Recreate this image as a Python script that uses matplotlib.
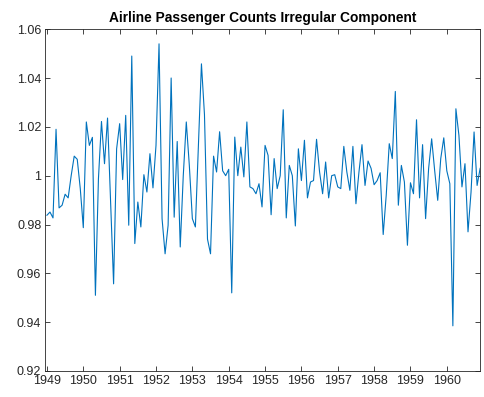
import matplotlib
matplotlib.use("Agg")
import matplotlib.pyplot as plt
import numpy as np
from matplotlib.ticker import FuncFormatter

start_year = 1949
years = list(range(1949, 1961))
irregular = [
    0.9838, 0.9851, 0.9827, 1.0190, 0.9868, 0.9879, 0.9924, 0.9909, 1.0000, 1.0080, 1.0067, 0.9947,
    0.9787, 1.0220, 1.0124, 1.0157, 0.9510, 0.9988, 1.0222, 1.0049, 1.0236, 0.9900, 0.9557, 1.0110,
    1.0213, 0.9984, 1.0247, 0.9797, 1.0490, 0.9722, 0.9892, 0.9790, 1.0004, 0.9933, 1.0090, 0.9950,
    1.0124, 1.0540, 0.9824, 0.9680, 0.9797, 1.0400, 0.9830, 1.0140, 0.9708, 1.0000, 1.0220, 1.0042,
    0.9824, 0.9790, 1.0120, 1.0458, 1.0250, 0.9740, 0.9680, 1.0080, 1.0015, 1.0180, 1.0020, 1.0000,
    1.0026, 0.9520, 1.0158, 1.0000, 1.0117, 0.9995, 1.0220, 0.9954, 0.9947, 0.9926, 0.9967, 0.9872,
    1.0124, 1.0083, 0.9840, 1.0070, 0.9947, 1.0000, 1.0270, 0.9827, 1.0042, 1.0000, 0.9794, 1.0110,
    0.9980, 1.0145, 0.9909, 0.9974, 0.9980, 1.0149, 1.0015, 0.9926, 1.0056, 0.9909, 1.0000, 1.0004,
    0.9954, 0.9947, 1.0120, 1.0015, 0.9940, 1.0120, 0.9885, 1.0015, 1.0127, 0.9960, 1.0060, 1.0030,
    0.9963, 0.9980, 1.0012, 0.9759, 0.9920, 1.0131, 1.0070, 1.0345, 0.9879, 1.0042, 0.9974, 0.9715,
    0.9971, 0.9926, 1.0229, 0.9909, 1.0127, 0.9824, 1.0030, 1.0151, 1.0020, 0.9899, 1.0070, 1.0155,
    1.0020, 0.9967, 0.9385, 1.0274, 1.0165, 0.9954, 1.0049, 0.9770, 0.9933, 1.0179, 0.9960, 1.0030,
]
y_ticks = [0.92, 0.94, 0.96, 0.98, 1.00, 1.02, 1.04, 1.06]
title = "Airline Passenger Counts Irregular Component"

plt.rcParams['font.family'] = ['Liberation Sans', 'DejaVu Sans']

x = start_year + np.arange(len(irregular)) / 12.0

fig = plt.figure(figsize=(4.84, 3.97), dpi=100)
ax = fig.add_axes([0.094, 0.0655, 0.898, 0.861])
ax.plot(x, irregular, color=(0.0, 0.447, 0.741), linewidth=0.8)

ax.set_xlim(x[0] - 0.04, x[-1])
ax.set_ylim(0.92, 1.06)
ax.set_xticks(years)
ax.set_xticklabels([str(y) for y in years])
ax.set_yticks(y_ticks)
ax.yaxis.set_major_formatter(FuncFormatter(lambda v, p: f"{v:g}"))

axcol = (0.15, 0.15, 0.15)
for s in ax.spines.values():
    s.set_color(axcol)
    s.set_linewidth(0.6)
ax.tick_params(direction='in', length=3.5, width=0.6, colors=axcol,
               labelsize=9, top=True, right=True, pad=3)
ax.set_title(title, fontsize=9.9, fontweight='bold', color='black', pad=5)

fig.savefig("out.png", dpi=100)
